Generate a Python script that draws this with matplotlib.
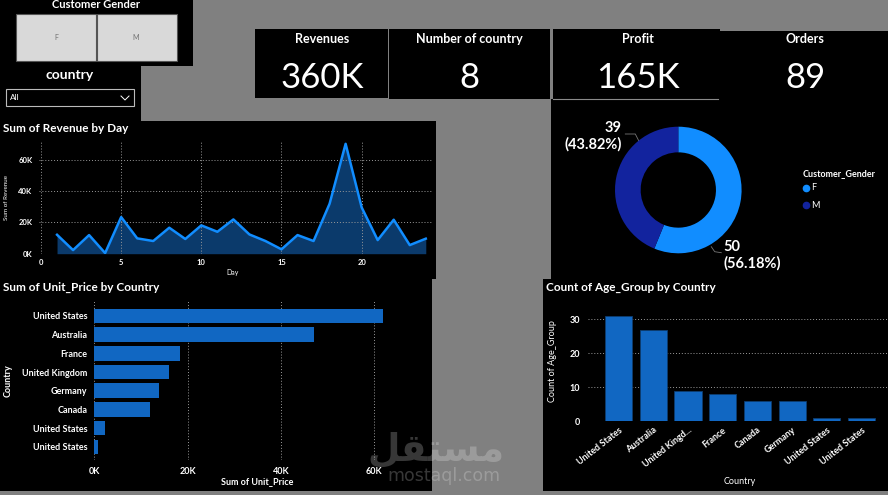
import matplotlib
matplotlib.use("Agg")
import matplotlib.pyplot as plt
from matplotlib.patches import Rectangle
from matplotlib.ticker import FuncFormatter

plt.rcParams['font.family'] = ['Lato', 'DejaVu Sans']

W, H = 888, 495

# ---- data ----
days = list(range(1, 25))
revenue_by_day = [12100, 2300, 11900, 400, 23400, 9800, 8100, 16600, 9400, 18100, 14000, 21900,
                  12300, 8100, 2800, 11900, 8100, 31900, 70200, 29600, 8700, 21700, 5500, 9600]

price_countries = ["United States", "Australia", "France", "United Kingdom",
                   "Germany", "Canada", "United States", "United States"]
unit_price_sum = [61900, 47100, 18400, 16100, 13800, 12000, 2300, 700]

age_countries = ["United States", "Australia", "United Kingd...", "France",
                 "Canada", "Germany", "United States", "United States"]
age_group_count = [31, 27, 9, 8, 6, 6, 1, 1]

genders = ["F", "M"]
gender_count = [50, 39]

kpi_titles = ["Revenues", "Number of country", "Profit", "Orders"]
kpi_values = ["360K", "8", "165K", "89"]

BLUE = '#1167c2'
GRID = '#9a9a9a'


def box(x0, y0, x1, y1, **kw):
    # axes placed by pixel coordinates (top-left origin)
    return fig.add_axes([x0 / W, 1 - y1 / H, (x1 - x0) / W, (y1 - y0) / H], **kw)


def kfmt(v, p):
    return f"{v / 1000:.0f}K"


def style(ax, size=5.5):
    ax.set_facecolor('none')
    for s in ax.spines.values():
        s.set_visible(False)
    ax.tick_params(colors='white', length=0, labelsize=size)
    for lab in ax.get_xticklabels() + ax.get_yticklabels():
        lab.set_fontweight('bold')


fig = plt.figure(figsize=(W / 100, H / 100), dpi=100)
fig.patch.set_facecolor('#808080')

# background panels
bg = box(0, 0, W, H, zorder=0)
bg.set_xlim(0, W)
bg.set_ylim(H, 0)
bg.set_axis_off()
panels = [(0, 0, 193, 66), (0, 66, 141, 121), (255, 29, 388, 98), (389, 29, 550, 99),
          (553, 29, 720, 99), (720, 31, 888, 99), (551, 99, 888, 279), (0, 121, 436, 279),
          (0, 279, 432, 491), (543, 279, 888, 491)]
for x0, y0, x1, y1 in panels:
    bg.add_patch(Rectangle((x0, y0), x1 - x0, y1 - y0, facecolor='black', edgecolor='none'))
bg.plot([553, 718], [99, 99], color='#8a8a8a', lw=0.8)

# slicers
bg.add_patch(Rectangle((16, 14), 80, 47, facecolor='#d9d9d9', edgecolor='#555555', lw=0.8))
bg.add_patch(Rectangle((97, 14), 80, 47, facecolor='#d9d9d9', edgecolor='#555555', lw=0.8))
bg.text(56, 38, "F", color='#707070', fontsize=5, ha='center', va='center')
bg.text(136, 38, "M", color='#707070', fontsize=5, ha='center', va='center')
bg.text(96, 5, "Customer Gender", color='white', fontsize=8, fontweight='bold', ha='center', va='center')
bg.text(70, 75, "country", color='white', fontsize=10, fontweight='bold', ha='center', va='center')
bg.add_patch(Rectangle((6, 89), 128, 17, facecolor='black', edgecolor='#bbbbbb', lw=0.8))
bg.text(10, 98, "All", color='white', fontsize=6, ha='left', va='center')
bg.plot([121, 125, 129], [96, 100, 96], color='white', lw=0.7)

# KPI cards
kpi_centers = [322, 469, 638, 805]
for cx, t, v in zip(kpi_centers, kpi_titles, kpi_values):
    bg.text(cx, 39, t, color='white', fontsize=9, fontweight='bold', ha='center', va='center')
    bg.text(cx, 78, v, color='white', fontsize=25, ha='center', va='center')

# ---- Sum of Revenue by Day ----
bg.text(3, 128, "Sum of Revenue by Day", color='white', fontsize=8.5, fontweight='bold', ha='left', va='center')
ax1 = box(39.4, 141, 433, 253.7, zorder=2)
ax1.fill_between(days, revenue_by_day, color='#0b3a6b', lw=0)
ax1.plot(days, revenue_by_day, color='#118dff', lw=1.8)
ax1.set_xlim(-0.1, 24.45)
ax1.set_ylim(0, 72000)
ax1.set_xticks([0, 5, 10, 15, 20])
ax1.set_yticks([0, 20000, 40000, 60000])
ax1.yaxis.set_major_formatter(FuncFormatter(kfmt))
ax1.grid(color=GRID, ls=(0, (1, 2)), lw=0.7)
style(ax1, 5.5)
ax1.tick_params(axis='y', pad=5)
ax1.tick_params(axis='x', pad=4)
bg.text(6, 198, "Sum of Revenue", color='white', fontsize=4.5, rotation=90, ha='center', va='center')
bg.text(233, 273, "Day", color='white', fontsize=5, ha='center', va='center')

# ---- Sum of Unit_Price by Country ----
bg.text(3, 287, "Sum of Unit_Price by Country", color='white', fontsize=8.5, fontweight='bold', ha='left', va='center')
ax2 = box(94.3, 301, 402, 460, zorder=2)
ypos = list(range(len(price_countries)))
ax2.barh(ypos, unit_price_sum, height=0.78, color=BLUE)
ax2.set_ylim(7.7, -0.8)
ax2.set_xlim(0, 66000)
ax2.set_yticks(ypos, price_countries)
ax2.set_xticks([0, 20000, 40000, 60000])
ax2.xaxis.set_major_formatter(FuncFormatter(kfmt))
ax2.xaxis.grid(color=GRID, ls=(0, (1, 2)), lw=0.7)
ax2.set_axisbelow(True)
style(ax2, 6.5)
ax2.tick_params(axis='y', pad=5)
ax2.tick_params(axis='x', pad=5)
bg.text(8, 381, "Country", color='white', fontsize=6.5, fontweight='bold', rotation=90, ha='center', va='center')
bg.text(257, 482, "Sum of Unit_Price", color='white', fontsize=6.5, fontweight='bold', ha='center', va='center')

# ---- Count of Age_Group by Country ----
bg.text(546, 287, "Count of Age_Group by Country", color='white', fontsize=8.5, fontweight='bold', ha='left', va='center')
ax3 = box(588.3, 305.7, 886.7, 421.3, zorder=2)
xpos = list(range(len(age_countries)))
ax3.bar(xpos, age_group_count, width=0.78, color=BLUE, edgecolor='#0d3d70', lw=0.6)
ax3.set_xlim(-0.875, 7.73)
ax3.set_ylim(0, 34)
ax3.set_yticks([0, 10, 20, 30])
ax3.set_xticks(xpos, age_countries, rotation=38, ha='right', rotation_mode='anchor')
ax3.yaxis.grid(color=GRID, ls=(0, (1, 2)), lw=0.7)
ax3.set_axisbelow(True)
style(ax3, 6.5)
ax3.tick_params(axis='y', pad=6)
ax3.tick_params(axis='x', pad=3)
bg.text(552, 361, "Count of Age_Group", color='white', fontsize=6.5, rotation=90, ha='center', va='center')
bg.text(740, 482, "Country", color='white', fontsize=6.5, ha='center', va='center')

# ---- donut ----
cx, cy, r = 678.3, 190, 63.3
ax4 = box(cx - r, cy - r, cx + r, cy + r, zorder=2)
donut_colors = ['#118dff', '#12239e']
wedges, _ = ax4.pie(gender_count, colors=donut_colors, startangle=90, counterclock=False,
                    radius=1, wedgeprops=dict(width=0.405, edgecolor='none'))
ax4.set_xlim(-1, 1)
ax4.set_ylim(-1, 1)
total = sum(gender_count)
lab = [f"{v}\n({v / total * 100:.2f}%)" for v in gender_count]
bg.text(723, 255, lab[0], color='white', fontsize=10.5, fontweight='bold', ha='left', va='center',
        multialignment='left', linespacing=1.2)
bg.text(622, 136, lab[1], color='white', fontsize=10.5, fontweight='bold', ha='right', va='center',
        multialignment='right', linespacing=1.2)
bg.plot([711.3, 714.7, 721.3], [246.7, 251.7, 252.7], color='#777777', lw=0.6)
bg.plot([625.3, 635.3, 638.7], [134, 134, 140.7], color='#777777', lw=0.6)
bg.text(803, 174, "Customer_Gender", color='white', fontsize=6.5, fontweight='bold', ha='left', va='center')
for i, g in enumerate(genders):
    yy = 188 + i * 17
    bg.plot([806], [yy], marker='o', ms=4.5, color=donut_colors[i], ls='none')
    bg.text(811, yy, g, color='white', fontsize=6.5, ha='left', va='center')

# watermark
top = box(0, 0, W, H, zorder=5)
top.set_xlim(0, W)
top.set_ylim(H, 0)
top.set_axis_off()
top.text(436, 450, "\uFEDE\uFED8\uFE98\uFEB4\uFEE3", color='white', alpha=0.22, fontsize=27,
         fontweight='bold', family='DejaVu Sans', ha='center', va='center')
top.text(443.5, 476, "mostaql.com", color='white', alpha=0.22, fontsize=12.5,
         family='DejaVu Sans', ha='center', va='center')

fig.savefig('out.png', dpi=100)
